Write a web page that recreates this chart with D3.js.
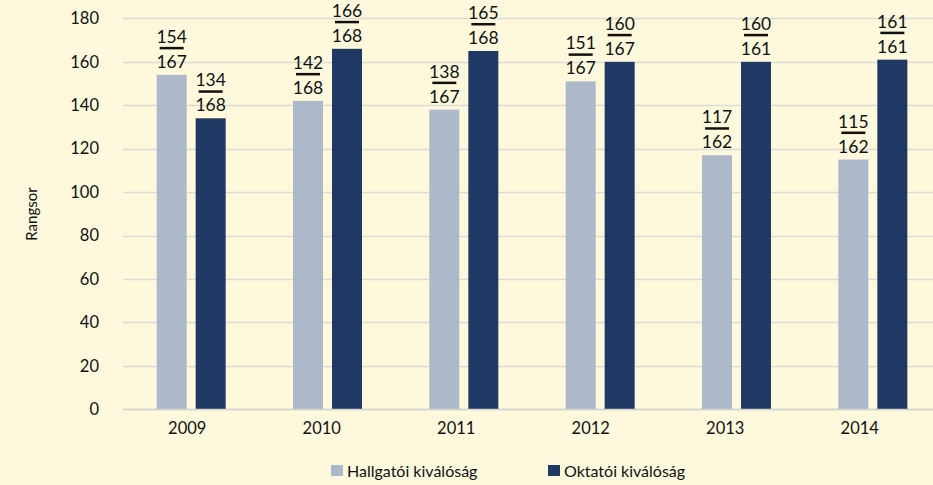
<!DOCTYPE html>
<html>
<head>
<meta charset="utf-8">
<script src="https://cdn.jsdelivr.net/npm/d3@7"></script>
<style>
  body { margin: 0; background: #fef9dc; }
  svg { display: block; font-family: Lato, "Open Sans", sans-serif; }
  .tick text { fill: #111; }
</style>
</head>
<body>
<svg id="chart" width="933" height="485"></svg>
<script>
// data
var years = ["2009", "2010", "2011", "2012", "2013", "2014"];
var hallgatoi = [154, 142, 138, 151, 117, 115];
var hallgatoiTotal = [167, 168, 167, 167, 162, 162];
var oktatoi = [134, 166, 165, 160, 160, 161];
var oktatoiTotal = [168, 168, 168, 167, 161, 161];
var yTicks = [0, 20, 40, 60, 80, 100, 120, 140, 160, 180];

var seriesNames = ["Hallgatói kiválóság", "Oktatói kiválóság"];
var colors = ["#adb9ca", "#203864"];

var svg = d3.select("#chart");
svg.append("rect").attr("width", 933).attr("height", 485).attr("fill", "#fef9dc");

// scales
var x = d3.scaleBand().domain(years).range([123, 941]);
var xLabel = d3.scaleBand().domain(years).range([120, 927]);
var y = d3.scaleLinear().domain([0, 180]).range([409.3, 18.4]);
var barW = 30, barGap = 9;

// gridlines
svg.append("g")
  .selectAll("line")
  .data(yTicks)
  .join("line")
    .attr("x1", 123)
    .attr("x2", 933)
    .attr("y1", function(d) { return Math.round(y(d)) + 0.5; })
    .attr("y2", function(d) { return Math.round(y(d)) + 0.5; })
    .attr("stroke", "#dcdcd6")
    .attr("stroke-width", 1.5);

// y axis labels
var yAxis = d3.axisLeft(y).tickValues(yTicks).tickSize(0).tickPadding(0);
svg.append("g")
  .attr("transform", "translate(99,0)")
  .call(yAxis)
  .call(function(g) { g.select(".domain").remove(); })
  .selectAll("text")
    .attr("font-size", "16.5px")
    .attr("font-family", "Lato, sans-serif");

// x axis labels
var xAxis = d3.axisBottom(xLabel).tickSize(0).tickPadding(0);
svg.append("g")
  .attr("transform", "translate(0,422)")
  .call(xAxis)
  .call(function(g) { g.select(".domain").remove(); })
  .selectAll("text")
    .attr("font-size", "16.5px")
    .attr("font-family", "Lato, sans-serif");

// y axis title
svg.append("text")
  .attr("transform", "translate(37,214) rotate(-90)")
  .attr("text-anchor", "middle")
  .attr("font-size", "15px")
  .attr("fill", "#111")
  .text("Rangsor");

// build rows for both series
var rows = [];
years.forEach(function(yr, i) {
  rows.push({year: yr, s: 0, value: hallgatoi[i], total: hallgatoiTotal[i]});
  rows.push({year: yr, s: 1, value: oktatoi[i], total: oktatoiTotal[i]});
});

function barX(d) {
  var c = x(d.year) + x.bandwidth() / 2;
  return d.s === 0 ? c - barGap / 2 - barW : c + barGap / 2;
}

svg.append("g")
  .selectAll("rect")
  .data(rows)
  .join("rect")
    .attr("x", barX)
    .attr("y", function(d) { return y(d.value); })
    .attr("width", barW)
    .attr("height", function(d) { return y(0) - y(d.value); })
    .attr("fill", function(d) { return colors[d.s]; });

// fraction labels above bars
var labels = svg.append("g")
  .selectAll("g")
  .data(rows)
  .join("g")
    .attr("transform", function(d) {
      return "translate(" + (barX(d) + barW / 2) + "," + y(d.value) + ")";
    });

labels.append("text")
  .attr("y", -32)
  .attr("text-anchor", "middle")
  .attr("font-size", "17.5px")
  .attr("fill", "#111")
  .text(function(d) { return d.value; });

labels.append("rect")
  .attr("x", -12)
  .attr("y", -28)
  .attr("width", 24)
  .attr("height", 2.5)
  .attr("fill", "#111");

labels.append("text")
  .attr("y", -7)
  .attr("text-anchor", "middle")
  .attr("font-size", "17.5px")
  .attr("fill", "#111")
  .text(function(d) { return d.total; });

// x axis line
svg.append("line")
  .attr("x1", 123).attr("x2", 933)
  .attr("y1", 409.5).attr("y2", 409.5)
  .attr("stroke", "#d4d4d0")
  .attr("stroke-width", 1.5);

// legend
var legendX = [331, 548];
var legend = svg.append("g")
  .selectAll("g")
  .data(seriesNames)
  .join("g")
    .attr("transform", function(d, i) { return "translate(" + legendX[i] + ",465)"; });

legend.append("rect")
  .attr("width", 12)
  .attr("height", 11)
  .attr("fill", function(d, i) { return colors[i]; });

legend.append("text")
  .attr("x", 16)
  .attr("y", 11.5)
  .attr("font-size", "16px")
  .attr("fill", "#111")
  .text(function(d) { return d; });
</script>
</body>
</html>
